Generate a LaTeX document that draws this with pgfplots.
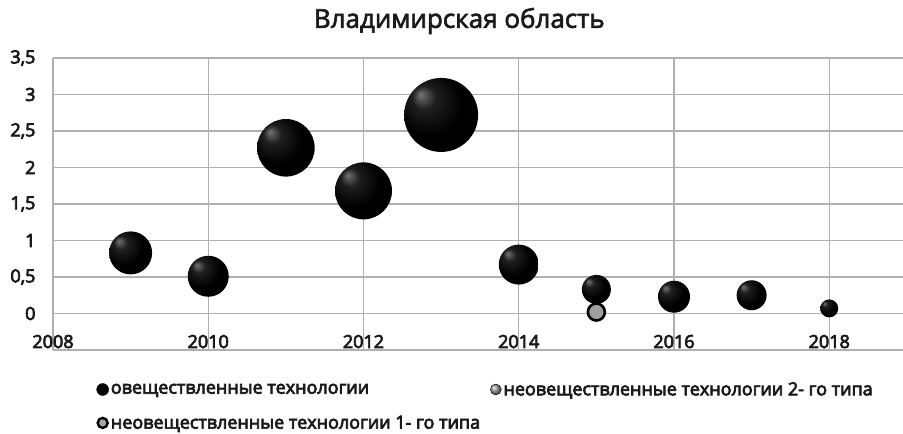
\documentclass[border=0pt]{standalone}
\usepackage{fontspec}
\setmainfont{Open Sans}
\newfontfamily\tickfont{Open Sans}[FakeBold=4]
\newfontfamily\titlefont{Open Sans}[FakeBold=2.5]
\usepackage{pgfplots}
\pgfplotsset{compat=1.18}
\definecolor{gridc}{HTML}{B0B0B0}
\definecolor{txt}{HTML}{1A1A1A}
\pgfdeclareradialshading{bubshade}{\pgfpoint{-14bp}{14bp}}{color(0bp)=(black!55!white); color(8bp)=(black!88!white); color(22bp)=(black); color(50bp)=(black)}
\pgfdeclareplotmark{bub}{%
  \pgfpathcircle{\pgfpointorigin}{\pgfplotmarksize}%
  \pgfshadepath{bubshade}{0}%
  \pgfusepath{}%
}
\begin{document}
\begin{tikzpicture}
\useasboundingbox (-53pt,-84pt) rectangle (850pt,350pt);
\begin{axis}[
  at={(0pt,0pt)}, anchor=south west,
  scale only axis,
  width=850pt, height=292pt,
  xmin=2008, xmax=2018.95,
  ymin=-0.5, ymax=3.5,
  xtick={2008,2010,...,2018},
  ytick={0,0.5,1,1.5,2,2.5,3,3.5},
  major tick length=0pt,
  grid=major,
  major grid style={gridc, line width=1.3pt},
  axis x line*=bottom, axis y line*=left,
  axis line style={gridc, line width=1.3pt, -},
  /pgf/number format/.cd, use comma, 1000 sep={}, assume math mode=true,
  /pgfplots/.cd,
  ticklabel style={font=\tickfont\fontsize{18}{20}\selectfont, text=txt},
  xticklabel style={anchor=base, yshift=2pt},
  yticklabel style={xshift=-14pt},
  clip=false,
  legend columns=2,
  legend cell align=left,
  legend style={at={(axis description cs:0.0474,-0.096)}, anchor=north west, draw=none, fill=none,
    font=\tickfont\fontsize{18}{20}\selectfont, text=txt,
    /tikz/every even column/.append style={column sep=8pt},
    row sep=15pt},
]
\addlegendimage{legend image code/.code={\fill[black] (0pt,0pt) circle (6pt);}}
\addlegendentry{овеществленные технологии}
\addlegendimage{legend image code/.code={\shade[ball color=gray!80] (0pt,0pt) circle (5.5pt);}}
\addlegendentry{неовеществленные технологии 2- го типа}
\addlegendimage{legend image code/.code={\filldraw[fill=gray!70, draw=black, line width=2.4pt] (0pt,0pt) circle (5pt);}}
\addlegendentry{неовеществленные технологии 1- го типа}

\addplot[scatter, only marks, mark=bub,
  visualization depends on={\thisrow{r} \as \rr},
  scatter/@pre marker code/.append style={/tikz/mark size=\rr},
  forget plot] table {
x y r
2009 0.83 21.5
2010 0.51 20.5
2011 2.27 28.8
2012 1.68 28.5
2013 2.72 37
2014 0.67 20
2015 0.33 14.5
2016 0.23 16
2017 0.25 15
2018 0.07 9
};
\addplot[only marks, mark=*, mark size=8.5pt,
  mark options={fill=gray!75, draw=black, line width=2.6pt}, forget plot]
  coordinates {(2015,0.02)};
\node[font=\titlefont\fontsize{26}{30}\selectfont, text=txt] at (axis description cs:0.478,1) [yshift=37pt] {Владимирская область};
\end{axis}
\end{tikzpicture}
\end{document}
